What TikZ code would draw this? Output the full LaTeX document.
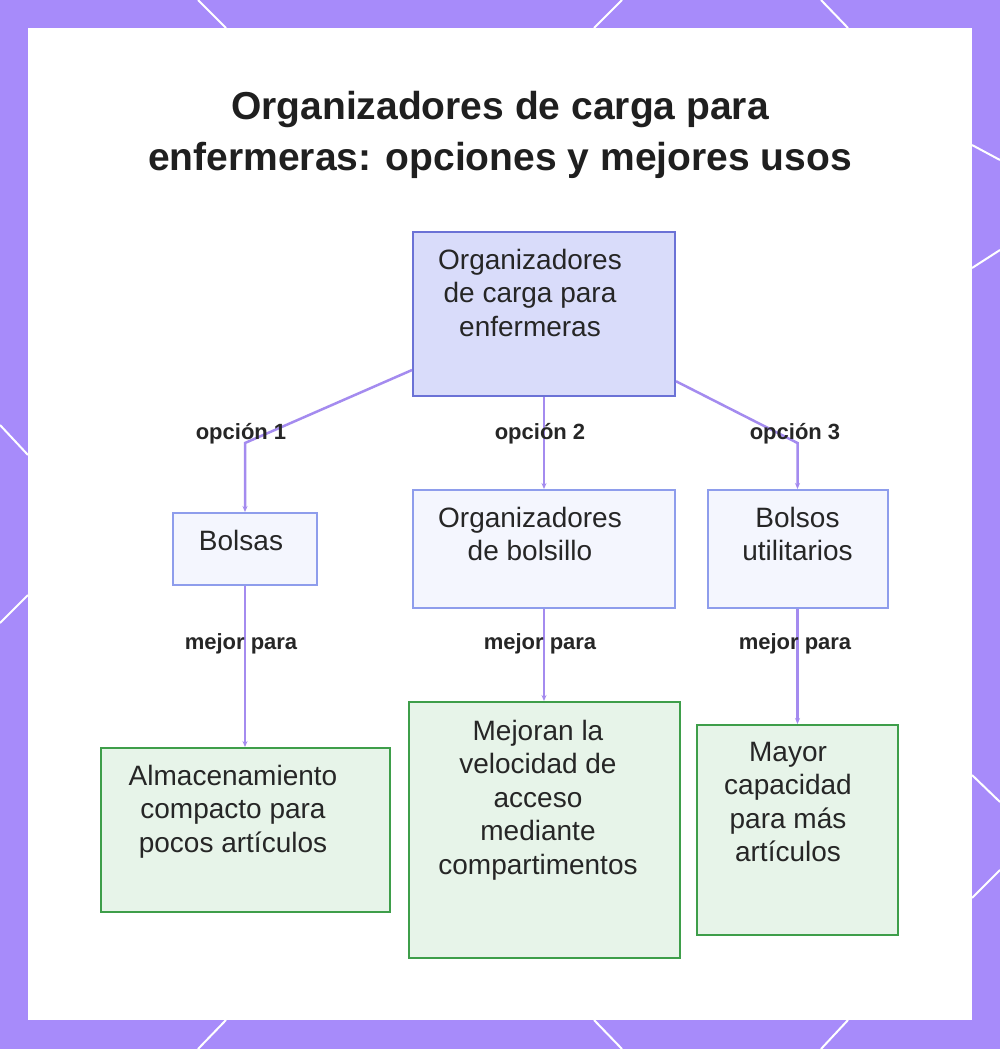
\documentclass[tikz,border=0pt]{standalone}
\usepackage{fontspec}
\setmainfont{Liberation Sans}
\usetikzlibrary{positioning,arrows.meta,calc}
\definecolor{framecolor}{HTML}{A78BFA}
\definecolor{rootfill}{HTML}{D9DCFA}
\definecolor{rootdraw}{HTML}{6B72D6}
\definecolor{optfill}{HTML}{F4F6FE}
\definecolor{optdraw}{HTML}{8E9DEC}
\definecolor{usefill}{HTML}{E7F4E9}
\definecolor{usedraw}{HTML}{3E9E4A}
\definecolor{linkcolor}{HTML}{A48BEF}
\definecolor{textcolor}{HTML}{262626}

\begin{document}
\begin{tikzpicture}[
    x=1pt, y=-1pt,
    box/.style={rectangle, draw, line width=2pt, inner sep=0pt},
    rootbox/.style={box, fill=rootfill, draw=rootdraw},
    optbox/.style={box, fill=optfill, draw=optdraw},
    usebox/.style={box, fill=usefill, draw=usedraw},
    boxtext/.style={anchor=north, align=center, inner sep=0pt, text=textcolor, font=\fontsize{28}{33.5}\selectfont},
    titletext/.style={anchor=north, align=center, inner sep=0pt, text=black!88, font=\fontsize{39}{51}\selectfont\bfseries},
    edgelabel/.style={font=\fontsize{22}{26}\selectfont\bfseries, text=textcolor, inner sep=0pt},
    conn/.style={-{Stealth[length=6pt,width=5pt]}, draw=linkcolor, line width=2.5pt},
    deco/.style={white, line width=2pt}
]
\useasboundingbox (0,0) rectangle (1000,1049);

% ===== FRAME =====
\fill[framecolor] (0,0) rectangle (1000,1049);
\fill[white] (28,28) rectangle (972,1020);
\foreach \xa/\xb in {198/226, 622/594, 821/848} {
    \draw[deco] (\xa,0) -- (\xb,28);
    \draw[deco] (\xa,1049) -- (\xb,1020);
}
\draw[deco] (0,425) -- (28,455);
\draw[deco] (0,623) -- (28,595);
\draw[deco] (1000,160) -- (972,145);
\draw[deco] (1000,250) -- (972,268);
\draw[deco] (1000,802) -- (972,775);
\draw[deco] (1000,870) -- (972,898);

% ===== TITLE =====
\node[titletext] (title) at (500,91) {Organizadores de carga para\\enfermeras: opciones y mejores usos};

% ===== ROOT =====
\node[rootbox, minimum width=262pt, minimum height=164pt] (root) at (544,314) {};
\node[boxtext] (root_txt) at (530,249) {Organizadores\\de carga para\\enfermeras};

% ===== OPTIONS =====
\node[optbox, minimum width=144pt, minimum height=72pt] (bolsas) at (245,549) {};
\node[boxtext] (bolsas_txt) at (241,530) {Bolsas};

\node[optbox, minimum width=262pt, minimum height=118pt] (bolsillo) at (544,549) {};
\node[boxtext] (bolsillo_txt) at (530,507) {Organizadores\\de bolsillo};

\node[optbox, minimum width=180pt, minimum height=118pt] (utilit) at (797.5,549) {};
\node[boxtext] (utilit_txt) at (797.5,507) {Bolsos\\utilitarios};

% ===== BEST USES =====
\node[usebox, minimum width=289pt, minimum height=164pt] (use_left) at (245,830) {};
\node[boxtext] (use_left_txt) at (233,765) {Almacenamiento\\compacto para\\pocos artículos};

\node[usebox, minimum width=271pt, minimum height=256pt] (use_mid) at (544,830) {};
\node[boxtext] (use_mid_txt) at (538,720) {Mejoran la\\velocidad de\\acceso\\mediante\\compartimentos};

\node[usebox, minimum width=201pt, minimum height=210pt] (use_right) at (797.5,830) {};
\node[boxtext] (use_right_txt) at (788,742) {Mayor\\capacidad\\para más\\artículos};

% ===== ARROWS =====
\coordinate (k1) at (245,443);
\coordinate (k3) at (797.5,443);
\draw[conn] (root.203) -- (k1) -- (bolsas);
\draw[conn] (root) -- (bolsillo);
\draw[conn] (root.333) -- (k3) -- (utilit);
\draw[conn] (bolsas) -- (use_left);
\draw[conn] (bolsillo) -- (use_mid);
\draw[conn] (utilit) -- (use_right);

% ===== LABELS =====
\node[edgelabel] (lab1) at (241,434) {opción 1};
\node[edgelabel] (lab2) at (540,434) {opción 2};
\node[edgelabel] (lab3) at (795,434) {opción 3};
\node[edgelabel] (best1) at (241,644) {mejor para};
\node[edgelabel] (best2) at (540,644) {mejor para};
\node[edgelabel] (best3) at (795,644) {mejor para};

\end{tikzpicture}
\end{document}
